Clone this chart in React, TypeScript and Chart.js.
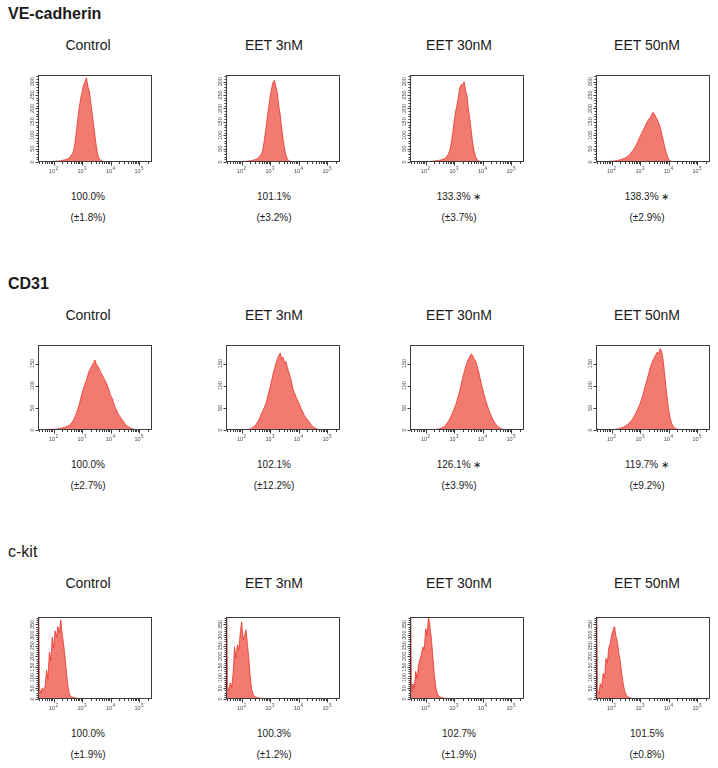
import React, { useEffect, useRef } from 'react';
import { Chart, registerables } from 'chart.js';

Chart.register(...registerables);

// ---------- data ----------
const BIN_WIDTH = 0.05; // histogram bin width, in decades (log10 fluorescence)
const X_MIN = 1.45;
const X_MAX = 5.45;
const X_LABEL_DECADES = [2, 3, 4, 5];

const conditions = ['Control', 'EET 3nM', 'EET 30nM', 'EET 50nM'];

// VE-cadherin
const veTitle = 'VE-cadherin';
const veMeans = ['100.0%', '101.1%', '133.3%', '138.3%'];
const veErrors = ['(±1.8%)', '(±3.2%)', '(±3.7%)', '(±2.9%)'];
const veSignificant = [false, false, true, true];
const veYMax = 325;
const veYLabels = [0, 50, 100, 150, 200, 250, 300];
const veStarts = [1.9, 2.0, 2.05, 1.45];
const veControl = [2, 1, 3, 2, 4, 3, 5, 4, 6, 7, 8, 10, 12, 16, 22, 30, 42, 72, 118, 165, 205, 238, 262, 288, 300, 314, 282, 265, 222, 184, 140, 96, 55, 26, 12, 6, 4, 2, 1, 1, 0];
const ve3nM = [1, 2, 2, 3, 3, 4, 5, 5, 7, 8, 10, 13, 17, 24, 32, 50, 85, 125, 168, 205, 245, 275, 298, 305, 280, 258, 210, 178, 130, 88, 52, 26, 12, 5, 3, 1, 1, 0];
const ve30nM = [1, 2, 2, 3, 3, 4, 5, 5, 6, 7, 8, 10, 12, 16, 22, 30, 44, 72, 110, 152, 190, 212, 245, 278, 290, 285, 300, 268, 248, 195, 160, 115, 70, 42, 20, 10, 5, 2, 1, 0];
const ve50nM = [6, 3, 1, 1, 1, 1, 2, 2, 2, 2, 3, 3, 3, 4, 5, 6, 7, 8, 10, 12, 14, 17, 20, 25, 30, 37, 44, 52, 62, 72, 85, 96, 106, 118, 128, 140, 150, 160, 165, 176, 186, 178, 168, 158, 145, 130, 108, 85, 62, 40, 22, 10, 5, 2, 1, 0];

// CD31
const cdTitle = 'CD31';
const cdMeans = ['100.0%', '102.1%', '126.1%', '119.7%'];
const cdErrors = ['(±2.7%)', '(±12.2%)', '(±3.9%)', '(±9.2%)'];
const cdSignificant = [false, false, true, true];
const cdYMax = 192;
const cdYLabels = [0, 50, 100, 150];
const cdStarts = [1.55, 2.2, 2.3, 1.45];
const cdControl = [1, 0, 1, 1, 1, 1, 2, 1, 2, 2, 2, 2, 3, 3, 4, 5, 6, 6, 8, 9, 11, 14, 18, 23, 30, 38, 48, 58, 72, 84, 94, 104, 112, 124, 134, 140, 146, 152, 158, 148, 144, 138, 130, 125, 118, 112, 106, 98, 88, 78, 72, 62, 52, 46, 38, 33, 28, 24, 19, 14, 11, 8, 6, 4, 3, 2, 1, 1, 0];
const cd3nM = [1, 2, 2, 4, 6, 9, 12, 17, 23, 30, 38, 44, 52, 60, 72, 85, 98, 112, 126, 138, 150, 160, 168, 174, 160, 165, 150, 155, 142, 132, 120, 108, 92, 84, 76, 68, 62, 54, 46, 40, 33, 28, 24, 20, 15, 11, 8, 5, 4, 2, 1, 0];
const cd30nM = [1, 1, 2, 2, 3, 4, 6, 8, 11, 15, 20, 26, 33, 40, 48, 56, 66, 78, 90, 104, 118, 130, 142, 152, 160, 166, 172, 168, 160, 156, 146, 134, 120, 106, 92, 80, 68, 58, 48, 40, 32, 25, 19, 14, 10, 7, 5, 3, 2, 1, 1, 0];
const cd50nM = [4, 2, 1, 0, 0, 0, 0, 0, 0, 0, 1, 1, 1, 1, 2, 2, 3, 4, 5, 6, 8, 10, 12, 15, 18, 22, 27, 32, 38, 45, 52, 60, 70, 80, 92, 104, 116, 128, 140, 150, 158, 164, 170, 176, 172, 184, 178, 160, 132, 100, 70, 45, 28, 16, 9, 5, 3, 2, 1, 0];

// c-kit (first bin: off-scale pile-up at the lowest channel)
const ckTitle = 'c-kit';
const ckMeans = ['100.0%', '100.3%', '102.7%', '101.5%'];
const ckErrors = ['(±1.9%)', '(±1.2%)', '(±1.9%)', '(±0.8%)'];
const ckSignificant = [false, false, false, false];
const ckYMax = 385;
const ckYLabels = [0, 50, 100, 150, 200, 250, 300, 350];
const ckStarts = [1.45, 1.45, 1.45, 1.45];
const ckControl = [900, 48, 28, 52, 40, 60, 135, 95, 220, 180, 290, 240, 320, 290, 340, 310, 372, 305, 255, 195, 122, 60, 24, 12, 9, 7, 5, 4, 3, 3, 2, 2, 1, 1, 1, 0];
const ck3nM = [900, 60, 40, 75, 55, 120, 245, 190, 255, 230, 310, 362, 280, 300, 325, 260, 190, 105, 45, 22, 12, 8, 6, 5, 4, 3, 3, 2, 2, 1, 1, 0];
const ck30nM = [900, 35, 72, 50, 130, 95, 160, 185, 210, 245, 230, 330, 300, 388, 340, 285, 200, 120, 60, 30, 15, 10, 7, 5, 4, 3, 3, 2, 1, 1, 0];
const ck50nM = [900, 45, 25, 72, 55, 120, 100, 190, 170, 240, 260, 300, 325, 340, 295, 270, 215, 180, 120, 75, 40, 22, 12, 8, 5, 4, 3, 2, 1, 1, 0];

// ---------- layout / style ----------
const FONT = '"Liberation Sans", Arial, Helvetica, sans-serif';
const FILL = '#f27a70';
const LINE = '#e8332a';
const AXIS = '#3c3c3c';
const TICK_TEXT = '#4a4a4a';

const BOX_LEFTS = [38, 226, 410, 596];
const BOX_WIDTH = 114;
const TEXT_CENTERS = [88, 274, 459, 647];
const PAD_L = 14, PAD_T = 4, PAD_R = 6, PAD_B = 14;

const rows = [
  { title: veTitle, bold: true, titleBase: 19.5, labelBase: 50, boxTop: 75, boxH: 87, yMax: veYMax, yLabels: veYLabels, yMinor: 10,
    starts: veStarts, series: [veControl, ve3nM, ve30nM, ve50nM], means: veMeans, errors: veErrors, sig: veSignificant },
  { title: cdTitle, bold: true, titleBase: 289.5, labelBase: 320, boxTop: 345, boxH: 85, yMax: cdYMax, yLabels: cdYLabels, yMinor: 50,
    starts: cdStarts, series: [cdControl, cd3nM, cd30nM, cd50nM], means: cdMeans, errors: cdErrors, sig: cdSignificant },
  { title: ckTitle, bold: false, titleBase: 558, labelBase: 588, boxTop: 617, boxH: 82, yMax: ckYMax, yLabels: ckYLabels, yMinor: 10,
    starts: ckStarts, series: [ckControl, ck3nM, ck30nM, ck50nM], means: ckMeans, errors: ckErrors, sig: ckSignificant },
];

const axesPlugin = {
  id: 'facsAxes',
  afterDatasetsDraw(chart: any, _args: any, opts: any) {
    const { ctx, chartArea: a, scales } = chart;
    const x = scales.x, y = scales.y;
    ctx.save();
    ctx.strokeStyle = AXIS;
    ctx.lineWidth = 1;
    const L = Math.round(a.left) + 0.5, T = Math.round(a.top) + 0.5;
    const R = Math.round(a.right) - 0.5, B = Math.round(a.bottom) - 0.5;
    ctx.strokeRect(L, T, R - L, B - T);
    // y ticks
    ctx.beginPath();
    for (let v = 0; v <= opts.yMax; v += opts.yMinor) {
      const py = Math.round(y.getPixelForValue(v)) + 0.5;
      const major = v % 50 === 0;
      ctx.moveTo(L - (major ? 3 : 2), py);
      ctx.lineTo(L, py);
    }
    // x ticks (log minor ticks)
    for (let dec = 1; dec <= 5; dec++) {
      for (let k = 1; k <= 9; k++) {
        const d = dec + Math.log10(k);
        if (d < X_MIN || d > X_MAX) continue;
        const px = Math.round(x.getPixelForValue(d)) + 0.5;
        ctx.moveTo(px, B);
        ctx.lineTo(px, B + (k === 1 ? 4 : 2.5));
      }
    }
    ctx.stroke();
    // y labels (rotated)
    ctx.fillStyle = TICK_TEXT;
    ctx.font = `5.5px ${FONT}`;
    ctx.textAlign = 'center';
    ctx.textBaseline = 'middle';
    for (const v of opts.yLabels) {
      const py = y.getPixelForValue(v);
      ctx.save();
      ctx.translate(L - 6, py);
      ctx.rotate(-Math.PI / 2);
      ctx.fillText(String(v), 0, 0);
      ctx.restore();
    }
    // x labels 10^n
    for (const dec of X_LABEL_DECADES) {
      const px = x.getPixelForValue(dec);
      ctx.font = `5.5px ${FONT}`;
      ctx.textAlign = 'right';
      ctx.textBaseline = 'alphabetic';
      ctx.fillText('10', px + 1.5, B + 11.5);
      ctx.font = `4.5px ${FONT}`;
      ctx.textAlign = 'left';
      ctx.fillText(String(dec), px + 1.8, B + 8.5);
    }
    ctx.restore();
  },
};

function Histogram(props: { left: number; top: number; width: number; height: number; start: number; counts: number[]; yMax: number; yLabels: number[]; yMinor: number }) {
  const ref = useRef<HTMLCanvasElement>(null);
  const { left, top, width, height, start, counts, yMax, yLabels, yMinor } = props;
  const cw = width + PAD_L + PAD_R;
  const ch = height + PAD_T + PAD_B;
  useEffect(() => {
    const points = counts.map((c, i) => ({ x: start + i * BIN_WIDTH, y: c }));
    const chart = new Chart(ref.current as HTMLCanvasElement, {
      type: 'line',
      data: {
        datasets: [{
          data: points,
          borderColor: LINE,
          backgroundColor: FILL,
          borderWidth: 0.8,
          fill: 'origin',
          pointRadius: 0,
          tension: 0,
        }],
      },
      options: {
        animation: false,
        responsive: false,
        maintainAspectRatio: false,
        events: [],
        layout: { padding: { left: PAD_L, top: PAD_T, right: PAD_R, bottom: PAD_B } },
        scales: {
          x: { type: 'linear', min: X_MIN, max: X_MAX, display: false },
          y: { type: 'linear', min: 0, max: yMax, display: false },
        },
        plugins: {
          legend: { display: false },
          tooltip: { enabled: false },
          // @ts-ignore
          facsAxes: { yMax, yLabels, yMinor },
        },
      } as any,
      plugins: [axesPlugin],
    });
    return () => chart.destroy();
  }, []);
  return (
    <canvas
      ref={ref}
      width={cw}
      height={ch}
      style={{ position: 'absolute', left: left - PAD_L, top: top - PAD_T, width: cw, height: ch }}
    />
  );
}

function Text(props: { x: number; base: number; size: number; bold?: boolean; align?: 'left' | 'center'; children: React.ReactNode }) {
  const { x, base, size, bold, align = 'center', children } = props;
  const top = base - 0.8465 * size;
  const style: React.CSSProperties = {
    position: 'absolute',
    top,
    left: align === 'center' ? x - 100 : x,
    width: align === 'center' ? 200 : 300,
    textAlign: align,
    fontFamily: FONT,
    fontSize: size,
    lineHeight: `${size}px`,
    fontWeight: bold ? 'bold' : 'normal',
    color: '#1a1a1a',
    whiteSpace: 'nowrap',
  };
  return <div style={style}>{children}</div>;
}

export default function App() {
  return (
    <div style={{ position: 'absolute', left: 0, top: 0, width: 718, height: 768, background: '#fff', overflow: 'hidden' }}>
      {rows.map((r, ri) => (
        <React.Fragment key={ri}>
          <Text x={8} base={r.titleBase} size={16} bold={r.bold} align="left">{r.title}</Text>
          {conditions.map((c, ci) => (
            <React.Fragment key={ci}>
              <Text x={TEXT_CENTERS[ci]} base={r.labelBase} size={14}>{c}</Text>
              <Histogram
                left={BOX_LEFTS[ci]}
                top={r.boxTop}
                width={BOX_WIDTH}
                height={r.boxH}
                start={r.starts[ci]}
                counts={r.series[ci]}
                yMax={r.yMax}
                yLabels={r.yLabels}
                yMinor={r.yMinor}
              />
              <Text x={TEXT_CENTERS[ci]} base={r.boxTop + r.boxH + 38} size={10}>
                {r.means[ci]}{r.sig[ci] ? ' ∗' : ''}
              </Text>
              <Text x={TEXT_CENTERS[ci]} base={r.boxTop + r.boxH + 59} size={10}>{r.errors[ci]}</Text>
            </React.Fragment>
          ))}
        </React.Fragment>
      ))}
    </div>
  );
}
